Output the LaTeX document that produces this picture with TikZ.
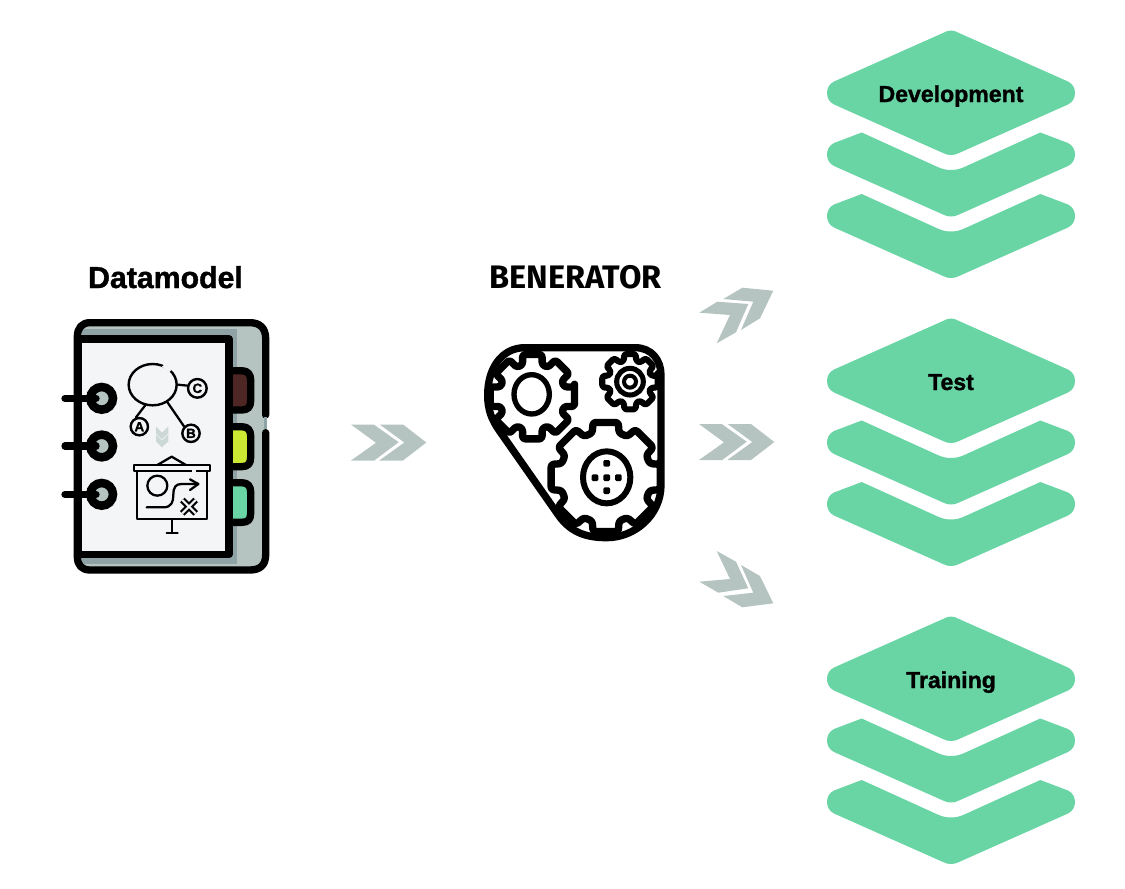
\documentclass[tikz,border=0pt]{standalone}
\usepackage{fontspec}
\setmainfont{Liberation Sans}[BoldFeatures={FakeBold=1.3}]
\newfontfamily\benfont{Fira Sans}
\usetikzlibrary{shapes.geometric,calc}
\definecolor{stackgreen}{HTML}{69D5A5}
\definecolor{chevgrey}{HTML}{B5C4C1}
\definecolor{palechev}{HTML}{CBD8D5}
\definecolor{coverdark}{HTML}{8FA3A6}
\definecolor{pagefill}{HTML}{F4F5F7}
\definecolor{tabbrown}{HTML}{4E2624}
\definecolor{tablime}{HTML}{CDE833}
\tikzset{
  layerfill/.style={fill=stackgreen},
  chev/.style={fill=chevgrey},
  toplabel/.style={font=\fontsize{22.7}{26}\selectfont\bfseries,inner sep=0pt,anchor=base},
  stacklabel/.style={font=\fontsize{17.3}{20}\selectfont\bfseries,inner sep=0pt,anchor=base},
  heavy/.style={line width=5.5pt,line cap=round,line join=round},
  thin ink/.style={line width=1.7pt,line cap=round,line join=round},
  letterdisc/.style={circle,draw,line width=1.8pt,fill=pagefill,inner sep=0pt,minimum size=13pt,font=\fontsize{10}{10}\selectfont\bfseries},
  layerstack/.pic={
    \fill[layerfill] (0,-62.5) .. controls (3,-62.5) and (5,-61.5) .. (8,-60) -- (117,-11.5) .. controls (122,-9) and (124,-4.5) .. (124,0) .. controls (124,4.5) and (122,9) .. (117,11.5) -- (8,60) .. controls (5,61.5) and (3,62) .. (0,62) .. controls (-3,62) and (-5,61.5) .. (-8,60) -- (-117,11.5) .. controls (-122,9) and (-124,4.5) .. (-124,0) .. controls (-124,-4.5) and (-122,-9) .. (-117,-11.5) -- (-8,-60) .. controls (-5,-61.5) and (-3,-62.5) .. (0,-62.5) -- cycle;
    \foreach \dy in {61.5,123}{
      \fill[layerfill] (0,15.5+\dy) .. controls (5,15.5+\dy) and (9,14.5+\dy) .. (14,12.2+\dy) -- (89.3,-22+\dy) -- (117,-11.5+\dy) .. controls (122,-9+\dy) and (124,-4.5+\dy) .. (124,\dy) .. controls (124,4.5+\dy) and (122,9+\dy) .. (117,11.5+\dy) -- (8,60+\dy) .. controls (5,61.5+\dy) and (3,62+\dy) .. (0,62+\dy) .. controls (-3,62+\dy) and (-5,61.5+\dy) .. (-8,60+\dy) -- (-117,11.5+\dy) .. controls (-122,9+\dy) and (-124,4.5+\dy) .. (-124,\dy) .. controls (-124,-4.5+\dy) and (-122,-9+\dy) .. (-117,-11.5+\dy) -- (-89.3,-22+\dy) -- (-14,12.2+\dy) .. controls (-9,14.5+\dy) and (-5,15.5+\dy) .. (0,15.5+\dy) -- cycle;
    }
  },
  straightchev/.pic={
    \fill[chev] (0,0) -- (22.7,0) -- (47.7,17.7) -- (23.3,36) -- (0,36) -- (25,18.3) -- cycle;
    \fill[chev] (28.7,0) -- (52,0) -- (75.3,18) -- (52,36) -- (28.3,36) -- (53.3,18) -- cycle;
  }
}
\newcommand{\gearpath}[5]{% centre x, y, tip r, valley r, half-tooth angle
  ($(#1,#2)+(-#5:#3)$)
  \foreach \a in {0,45,...,315}{
    -- ($(#1,#2)+(\a-#5:#3)$) -- ($(#1,#2)+(\a+#5:#3)$) -- ($(#1,#2)+(\a+#5+4:#4)$) -- ($(#1,#2)+(\a+45-#5-4:#4)$)
  } -- cycle}
\begin{document}
\begin{tikzpicture}[x=0.75pt,y=-0.75pt]
\useasboundingbox (0,0) rectangle (1125,889);

% stacks
\pic at (951,93) {layerstack};
\pic at (951,381) {layerstack};
\pic at (951,679) {layerstack};
\node[stacklabel] (dev) at (951,102) {Development};
\node[stacklabel] (tst) at (951,390) {Test};
\node[stacklabel] (trn) at (951,688) {Training};

% chevrons
\pic at (351,424.5) {straightchev};
\pic at (699,424) {straightchev};
\fill[chev] (699.3,312.7) -- (717.3,301.7) -- (748.3,304) -- (736,332.3) -- (716.7,343.3) -- (730,315) -- cycle;
\fill[chev] (723.3,299) -- (742.3,287.7) -- (773.3,290.7) -- (760,318.3) -- (741,330) -- (753.3,301.7) -- cycle;
\fill[chev] (699.3,581.7) -- (730,579) -- (716.7,551) -- (736,561.7) -- (748.3,588.3) -- (718.3,592.7) -- cycle;
\fill[chev] (723.3,596) -- (753.3,592.7) -- (741,565) -- (760,576) -- (773.3,603.3) -- (742.3,607.3) -- cycle;

% titles
\node[toplabel] (dm) at (165.5,288) {Datamodel};
\node[font=\benfont\fontsize{24.4}{26}\selectfont\bfseries,inner sep=0pt,anchor=base] (ben) at (575.5,288) {BENERATOR};

% notebook, in zoom coordinates
\begin{scope}[shift={(50,310)},x=0.25pt,y=-0.25pt]
  \fill[chevgrey,rounded corners=8pt] (82,38) rectangle (647,780);
  \fill[coverdark] (93,58) rectangle (562,762);
  % tabs
  \draw[heavy,fill=tabbrown] (540,182) -- (575,182) .. controls (595,182) and (602,195) .. (602,210) -- (602,272) .. controls (602,290) and (595,300) .. (575,300) -- (540,300);
  \draw[heavy,fill=tablime] (540,350) -- (575,350) .. controls (595,350) and (602,362) .. (602,378) -- (602,442) .. controls (602,460) and (595,470) .. (575,470) -- (540,470);
  \draw[heavy,fill=stackgreen] (540,518) -- (575,518) .. controls (595,518) and (602,530) .. (602,546) -- (602,610) .. controls (602,628) and (595,637) .. (575,637) -- (540,637);
  % cover outline with its break
  \draw[heavy] (647,315) -- (647,85) .. controls (647,55) and (630,38) .. (600,38) -- (120,38) .. controls (95,38) and (82,55) .. (82,80) -- (82,740) .. controls (82,765) and (95,780) .. (120,780) -- (600,780) .. controls (630,780) and (647,765) .. (647,735) -- (647,368);
  \fill[coverdark] (642,322) rectangle (652,358);
  % page
  \draw[heavy,fill=pagefill] (84,87) -- (537,87) -- (537,733) -- (84,733) -- cycle;
  % rings
  \foreach \n/\ry in {one/265,two/408,three/553}{
    \coordinate (ringc\n) at (155,\ry);
    \coordinate (ringe\n) at (45,\ry);
    \coordinate (ringb\n) at (138,\ry);
    \draw[line width=6.4pt,fill=chevgrey] (ringc\n) circle[radius=34];
    \draw[heavy] (ringe\n) -- (ringb\n);
  }
  % entity diagram
  \node[ellipse,draw,line width=1.8pt,minimum width=36pt,minimum height=31pt,inner sep=0pt] (ent) at (308,224) {};
  \fill[pagefill] (343,164) -- (366,178) -- (358,186) -- (336,170) -- cycle;
  \node[letterdisc,minimum size=14pt] (nc) at (442,235) {C};
  \node[letterdisc] (na) at (268,350) {A};
  \node[letterdisc] (nb) at (423,370) {B};
  \draw[thin ink] (ent.east) -- (nc.165);
  \draw[thin ink] (ent.-110) -- (na.110);
  \draw[thin ink] (ent.-50) -- (nb.135);
  % small chevrons
  \foreach \dy in {0,24}{
    \fill[palechev] (318,350+\dy) -- (336,368+\dy) -- (355,350+\dy) -- (355,370+\dy) -- (336,388+\dy) -- (318,370+\dy) -- cycle;
  }
  % presentation board
  \draw[thin ink,fill=pagefill] (252,465) rectangle (480,483);
  \draw[thin ink] (322,465) -- (365,440) -- (408,465);
  \draw[thin ink] (262,483) rectangle (470,628);
  \fill[pagefill] (427,478) rectangle (437,488);
  \draw[thin ink] (367,628) -- (367,668);
  \draw[thin ink] (350,668) -- (383,668);
  \draw[thin ink] (322,527) circle[radius=30];
  \draw[thin ink] (290,592) -- (340,592) .. controls (365,592) and (370,575) .. (370,555) .. controls (370,530) and (378,522) .. (395,522) -- (445,522);
  \draw[thin ink] (420,508) -- (445,522) -- (420,540);
  \draw[line width=4.8pt] (397,570) -- (437,610) (437,570) -- (397,610);
  \draw[line width=1.6pt,pagefill] (397,570) -- (437,610) (437,570) -- (397,610);
\end{scope}

% gears, in zoom coordinates
\begin{scope}[shift={(475,335)},x=0.25pt,y=-0.25pt]
  \draw[heavy] (38,180) .. controls (38,100) and (80,38) .. (150,38) -- (480,38) .. controls (530,38) and (558,75) .. (558,120) -- (558,450) .. controls (558,540) and (480,608) .. (395,608) .. controls (330,608) and (285,590) .. (250,540) -- (75,290) .. controls (50,255) and (38,225) .. (38,180) -- cycle;
  \draw[heavy,fill=white,rounded corners=2pt] \gearpath{172}{185}{130}{100}{13};
  \draw[line width=4.6pt,line join=round,fill=white,rounded corners=2pt] \gearpath{465}{140}{85}{65}{12};
  \draw[heavy,fill=white,rounded corners=2pt] \gearpath{392}{426}{168}{138}{13};
  \draw[line width=4pt] (170,178) ellipse[x radius=53,y radius=59];
  \draw[line width=3.8pt] (465,140) circle[radius=40];
  \draw[line width=3pt] (465,140) circle[radius=18];
  \draw[line width=4.5pt] (395,427) ellipse[x radius=71,y radius=78];
  \foreach \px/\py in {395/385,360/428,395/428,430/428,395/467}{
    \fill[rounded corners=1pt] (\px-10,\py-10) rectangle (\px+10,\py+10);
  }
  \draw[white,line width=0.5pt] (245,315) -- (295,265);
\end{scope}
\end{tikzpicture}
\end{document}
